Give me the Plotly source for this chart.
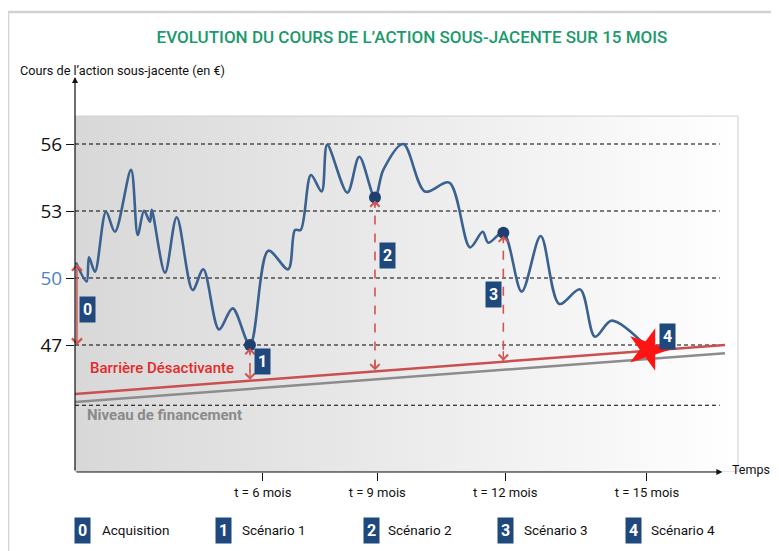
import numpy as np
import plotly.graph_objects as go

# ---------------- data ----------------
title_text = "EVOLUTION DU COURS DE L’ACTION SOUS-JACENTE SUR 15 MOIS"
y_axis_label = "Cours de l’action sous-jacente (en €)"
x_axis_label = "Temps"

# share price path (x = position along the time axis, y = price in €)
price_x = [0.15, 1.8, 2.15, 3.08, 4.77, 6.15, 8.62, 9.65, 10.62, 11.54, 11.8,
           13.85, 15.65, 18.1, 19.74, 22.15, 24.26, 26.92, 29.74, 32.8, 33.85,
           34.72, 36.3, 37.95, 38.8, 41.9, 43.74, 46.15, 47.43, 50.5, 53.85,
           57.58, 60.77, 62.72, 63.58, 65.9, 68.72, 71.65, 74.5, 77.7, 80.0,
           82.57, 88.2]
price_y = [50.69, 49.84, 50.93, 50.28, 52.97, 52.07, 54.84, 51.93, 53.01, 52.52, 53.05,
           50.24, 52.72, 49.46, 50.39, 47.70, 48.64, 47.0, 51.22, 50.39, 52.15,
           52.15, 54.61, 53.87, 55.96, 53.82, 55.43, 53.6, 54.84, 56.0, 53.87,
           54.27, 51.37, 52.07, 51.58, 52.03, 49.39, 51.88, 48.84, 49.49, 47.37,
           48.09, 46.85]

y_tick_vals = [47, 50, 53, 56]
y_tick_text = ["47", "<span style='color:#4f81c7'>50</span>", "53", "56"]
x_tick_vals = [28.9, 46.5, 66.2, 88.0]
x_tick_text = ["t = 6 mois", "t = 9 mois", "t = 12 mois", "t = 15 mois"]

ref_levels = [44.3, 47, 50, 53, 56]

barrier_x = [0, 100]
barrier_y = [44.81, 47.0]
barrier_label = "Barrière Désactivante"
funding_x = [0, 100]
funding_y = [44.45, 46.63]
funding_label = "Niveau de financement"

# observation points of scenarios 1..3 and knock-out (scenario 4)
obs_x = [26.92, 46.15, 65.9]
obs_y = [47.0, 53.6, 52.03]
knock_x = [88.2]
knock_y = [46.8]

# acquisition arrow (scenario 0)
acq_x = 0.3
acq_top = 50.69
acq_bottom = 47.0

scenario_ids = ["0", "1", "2", "3", "4"]
legend_labels = ["Acquisition", "Scénario 1", "Scénario 2", "Scénario 3", "Scénario 4"]

# ---------------- layout constants ----------------
FONT = "Roboto, Liberation Sans Narrow, sans-serif"
NUMFONT = "Open Sans, Liberation Sans, sans-serif"
NAVY = "#1f497d"
RED_ARROW = "#cf5552"
Y_MIN, Y_MAX = 41.313, 59.09
X_MAX = 103.08


def px(x):
    return x / X_MAX


def py(y):
    return (y - Y_MIN) / (Y_MAX - Y_MIN)


fig = go.Figure()

# gradient background panel
fig.add_trace(go.Scatter(
    x=[0, 102, 102, 0, 0], y=[Y_MIN, Y_MIN, 57.25, 57.25, Y_MIN],
    mode="lines", fill="toself",
    fillgradient=dict(type="horizontal",
                      colorscale=[[0, "#d8d8d8"], [0.5, "#ebebeb"], [1, "#ffffff"]]),
    line=dict(color="#cfcfcf", width=1), hoverinfo="skip", showlegend=False))

# dashed reference levels
for lv in ref_levels:
    fig.add_trace(go.Scatter(x=[0, 99.2], y=[lv, lv], mode="lines",
                             line=dict(color="#000000", width=1.1, dash="4px,3px"),
                             hoverinfo="skip", showlegend=False))

# funding and barrier lines
fig.add_trace(go.Scatter(x=funding_x, y=funding_y, mode="lines",
                         line=dict(color="#8c8c8c", width=2.5), showlegend=False))
fig.add_trace(go.Scatter(x=barrier_x, y=barrier_y, mode="lines",
                         line=dict(color="#c9504e", width=2.5), showlegend=False))

# dashed vertical distance arrows for scenarios 1..3
bar_at_obs = np.interp(obs_x, barrier_x, barrier_y)
for ox, oy, by in zip(obs_x, obs_y, bar_at_obs):
    fig.add_trace(go.Scatter(x=[ox, ox], y=[oy, by], mode="lines",
                             line=dict(color=RED_ARROW, width=1.6, dash="dash"),
                             hoverinfo="skip", showlegend=False))
    fig.add_annotation(x=ox, y=oy, ax=0, ay=12, xref="x", yref="y", text="",
                       showarrow=True, arrowhead=4, arrowsize=1.3, arrowwidth=1.4,
                       arrowcolor=RED_ARROW, standoff=3)
    fig.add_annotation(x=ox, y=by, ax=0, ay=-12, xref="x", yref="y", text="",
                       showarrow=True, arrowhead=4, arrowsize=1.3, arrowwidth=1.4,
                       arrowcolor=RED_ARROW, standoff=1)

# acquisition double arrow
fig.add_annotation(x=acq_x, y=acq_bottom, ax=acq_x, ay=acq_top, xref="x", yref="y",
                   axref="x", ayref="y", text="", showarrow=True, arrowhead=4,
                   startarrowhead=4, arrowside="end+start", arrowsize=1.3,
                   startarrowsize=1.3, arrowwidth=1.5, arrowcolor=RED_ARROW)

# price path
fig.add_trace(go.Scatter(x=price_x, y=price_y, mode="lines",
                         line=dict(color="#3a6190", width=2.6, shape="spline", smoothing=0.9),
                         showlegend=False))

# observation dots
fig.add_trace(go.Scatter(x=obs_x, y=obs_y, mode="markers",
                         marker=dict(color="#1f3f6e", size=12), showlegend=False))
# knock-out star
fig.add_trace(go.Scatter(x=knock_x, y=knock_y, mode="markers",
                         marker=dict(color="#ff1414", size=32, symbol="star", angle=18,
                                     line=dict(width=0)), showlegend=False))

# axes drawn as arrows
fig.add_annotation(x=0, y=59.0, ax=0, ay=Y_MIN, xref="x", yref="y", axref="x", ayref="y",
                   text="", showarrow=True, arrowhead=2, arrowsize=1, arrowwidth=1.2,
                   arrowcolor="#111111")
fig.add_annotation(x=99.6, y=Y_MIN, ax=0, ay=Y_MIN, xref="x", yref="y", axref="x", ayref="y",
                   text="", showarrow=True, arrowhead=2, arrowsize=1, arrowwidth=1.2,
                   arrowcolor="#111111")

# numbered boxes on the chart
box_pos = [(1.85, 48.57), (28.92, 46.24), (48.15, 51.03), (64.46, 49.24), (91.23, 47.36)]
for sid, (bx, by) in zip(scenario_ids, box_pos):
    fig.add_annotation(x=bx, y=by, xref="x", yref="y", text="<b>%s</b>" % sid,
                       showarrow=False, bgcolor=NAVY, borderpad=3,
                       font=dict(family=FONT, size=16, color="white"))

# line labels
fig.add_annotation(x=2.0, y=45.97, xref="x", yref="y", text=barrier_label, showarrow=False,
                   xanchor="left", font=dict(family=FONT, size=15, color="#e52a2a", weight=500))
fig.add_annotation(x=1.5, y=43.87, xref="x", yref="y", text="<b>%s</b>" % funding_label,
                   showarrow=False, xanchor="left",
                   font=dict(family=FONT, size=15, color="#8a8a8a"))

# axis labels (paper coordinates so they are drawn outside the axis ranges)
fig.add_annotation(x=px(-8.77), y=py(59.31), xref="paper", yref="paper", text=y_axis_label,
                   showarrow=False, xanchor="left", yanchor="middle",
                   font=dict(family=FONT, size=12.7, color="#111111"))
fig.add_annotation(x=px(100.7), y=py(Y_MIN + 0.1), xref="paper", yref="paper",
                   text=x_axis_label, showarrow=False, xanchor="left", yanchor="middle",
                   font=dict(family=FONT, size=12.5, color="#111111"))

# bottom legend
leg_box_x = [1.23, 22.8, 45.55, 66.3, 86.0]
leg_txt_x = [3.85, 25.4, 47.8, 68.77, 88.3]
LEG_Y = 38.7
for sid, lab, bx, tx in zip(scenario_ids, legend_labels, leg_box_x, leg_txt_x):
    fig.add_annotation(x=px(bx), y=py(LEG_Y), xref="paper", yref="paper",
                       text="<b>%s</b>" % sid, showarrow=False, bgcolor=NAVY, borderpad=3,
                       xanchor="center", yanchor="middle",
                       font=dict(family=FONT, size=16, color="white"))
    fig.add_annotation(x=px(tx), y=py(LEG_Y), xref="paper", yref="paper", text=lab,
                       showarrow=False, xanchor="left", yanchor="middle",
                       font=dict(family=FONT, size=13.5, color="#111111"))

# outer card border (top and left)
fig.add_shape(type="path", xref="paper", yref="paper",
              path="M -0.1,-0.25 L -0.1,1.1587 L 1.08,1.1587",
              line=dict(color="#d2d2d2", width=2.5))

fig.update_layout(
    width=771, height=543, autosize=False,
    margin=dict(l=67, r=34, t=67, b=79),
    paper_bgcolor="white", plot_bgcolor="white",
    title=dict(text=title_text, x=(412 - 8) / 771, xanchor="center", y=1 - 29 / 543,
               yanchor="middle", yref="container",
               font=dict(family=FONT, size=17, color="#1b9a6c", weight=500)),
    xaxis=dict(range=[0, X_MAX], showgrid=False, zeroline=False, showline=False,
               tickvals=x_tick_vals, ticktext=x_tick_text, ticks="outside", ticklen=8,
               tickcolor="#111111", tickwidth=1,
               tickfont=dict(family=FONT, size=13, color="#111111"), fixedrange=True),
    yaxis=dict(range=[Y_MIN, Y_MAX], showgrid=False, zeroline=False, showline=False,
               tickvals=y_tick_vals, ticktext=y_tick_text, ticks="outside", ticklen=8,
               tickcolor="#111111", tickwidth=1,
               tickfont=dict(family=NUMFONT, size=19, color="#111111"), fixedrange=True),
    showlegend=False,
)

fig.write_html("out.html")
